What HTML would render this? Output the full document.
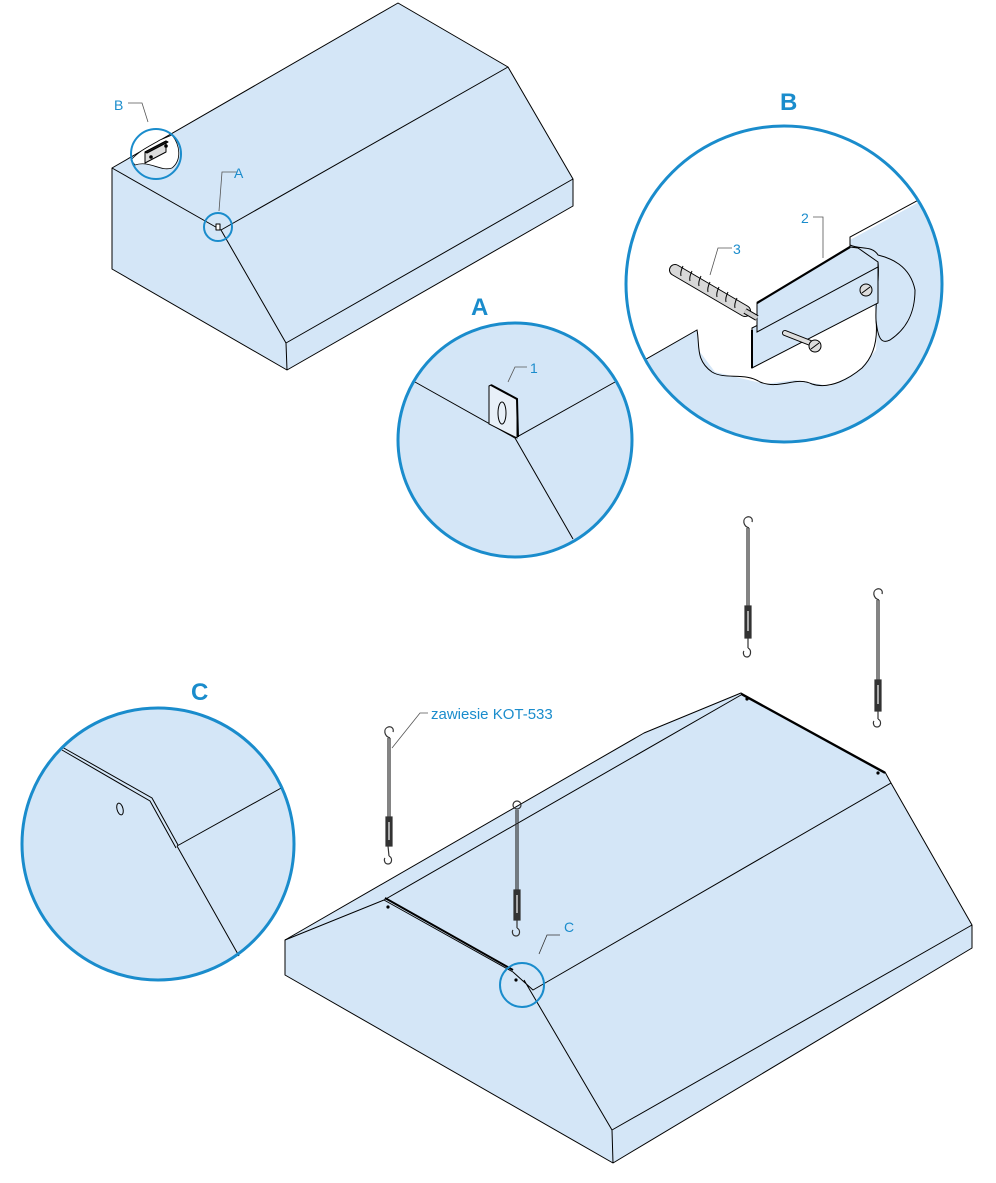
<!DOCTYPE html>
<html><head><meta charset="utf-8"><style>
html,body{margin:0;padding:0;background:#fff;}
svg{display:block;}
text{font-family:"Liberation Sans",Arial,sans-serif;fill:#1a8ccc;}
</style></head><body>
<svg width="996" height="1183" viewBox="0 0 996 1183" xmlns="http://www.w3.org/2000/svg">
<defs>
<clipPath id="cb"><circle cx="784" cy="284" r="158"/></clipPath>
</defs>
<g stroke="#000" stroke-width="1" fill="none" stroke-linejoin="round">
<!-- TOP HOOD -->
<polygon points="398,3 508,67 573,179 573,206 287,370 112,269 112,168" fill="#d4e6f7"/>
<path d="M112,168 L221,230 L508,67 M221,230 L286,343 L573,179 M286,343 L287,370"/>
<path d="M131,160 C140,150 150,146 160,140 L172,135 C180,145 182,160 172,168 C160,172 150,160 135,165 Z" fill="#fff" stroke-width="0.8"/>
<polygon points="145,152 166,141 166,152 145,163" fill="#ddd"/>
<polygon points="145,152 166,141 168,142 147,153" fill="#222"/>
<circle cx="151" cy="157" r="1.3" fill="#000"/><circle cx="166" cy="146" r="1.3" fill="#000"/>
<rect x="216" y="224" width="4" height="6" fill="#fff"/>
</g>
<g fill="none" stroke="#1a8ccc" stroke-width="2">
<circle cx="156" cy="154" r="25"/>
<circle cx="218" cy="227" r="14"/>
</g>
<g stroke="#555" stroke-width="0.8" fill="none">
<path d="M128,103 L142,103 L148,122"/>
<path d="M237,172 L222,172 L219,211"/>
</g>
<text x="114" y="110" font-size="14">B</text>
<text x="234" y="178" font-size="14">A</text>

<!-- DETAIL A -->
<circle cx="515" cy="440" r="117" fill="#d4e6f7"/>
<g stroke="#000" stroke-width="1" fill="none">
<path d="M415,382 L515,438 L615,382 M515,438 L573,539"/>
<path d="M489,386 L491,385 L515,398 L517,400 L517,438 L489,424 Z" fill="#e8f0f8"/>
<path d="M491,385 L517,399 L518,437" stroke-width="2"/>
<ellipse cx="502" cy="413" rx="4" ry="11"/>
</g>
<path d="M508,382 L515,367 L527,367" stroke="#555" stroke-width="0.8" fill="none"/>
<text x="530" y="373" font-size="14">1</text>
<circle cx="515" cy="440" r="117" fill="none" stroke="#1a8ccc" stroke-width="3"/>
<text x="471" y="315" font-size="24" font-weight="bold">A</text>

<!-- DETAIL B -->
<g clip-path="url(#cb)">
<circle cx="784" cy="284" r="158" fill="#fff"/>
<polygon points="600,385 697,330 700,352 715,372 740,378 765,384 795,380 830,386 858,372 876,350 878,320 870,290 850,262 850,240 950,185 950,460 600,460" fill="#d4e6f7" stroke="none"/>
<g stroke="#000" stroke-width="1" fill="none">
<path d="M620,374 L697,330 C700,345 695,360 712,372 C725,380 745,372 760,382 C780,390 795,376 812,384 C830,390 850,378 862,368 C874,356 878,340 876,320"/>
<path d="M850,247 L850,237 L950,183"/>
<path d="M850,245 C860,250 872,245 878,255 C890,258 910,265 915,290 C915,315 905,330 890,340 C882,344 878,340 876,320 C875,300 880,280 878,262" fill="#d4e6f7"/>
<polygon points="752,328 878,265 878,303 752,368" fill="#d4e6f7"/>
<polygon points="757,303 850,247 858,248 878,262 878,267 757,332" fill="#d4e6f7"/>
<path d="M757,303 L850,247" stroke-width="2.2"/>
<path d="M752,330 L752,368" stroke-width="2"/>
<path d="M785,333 L813,344" stroke="#000" stroke-width="6" stroke-linecap="round"/>
<path d="M785,333 L813,344" stroke="#ddd" stroke-width="4" stroke-linecap="round"/>
<circle cx="815" cy="346" r="6" fill="#ddd"/>
<path d="M811,349 L819,343"/>
<circle cx="866" cy="290" r="6" fill="#ddd"/>
<path d="M862,293 L870,287"/>
<path d="M675,270 L745,311" stroke="#000" stroke-width="12" stroke-linecap="round"/>
<path d="M675,270 L745,311" stroke="#d8d8d8" stroke-width="10" stroke-linecap="round"/>
<path d="M683,266 q-3,6 -2,10 M692,271 q-3,6 -2,10 M701,276 q-3,6 -2,10 M710,282 q-3,6 -2,10 M719,287 q-3,6 -2,10 M728,292 q-3,6 -2,10 M737,298 q-3,6 -2,10"/>
<path d="M745,311 L757,318" stroke="#000" stroke-width="6"/>
<path d="M745,311 L757,318" stroke="#ccc" stroke-width="4"/>
</g>
</g>
<g stroke="#555" stroke-width="0.8" fill="none">
<path d="M813,217 L823,217 L823,258"/>
<path d="M732,248 L718,248 L710,275"/>
</g>
<text x="801" y="223" font-size="14">2</text>
<text x="733" y="254" font-size="14">3</text>
<circle cx="784" cy="284" r="158" fill="none" stroke="#1a8ccc" stroke-width="3"/>
<text x="780" y="110" font-size="24" font-weight="bold">B</text>

<!-- DETAIL C -->
<circle cx="158" cy="844" r="136" fill="#d4e6f7"/>
<g stroke="#000" stroke-width="1" fill="none">
<path d="M62,747 L152,798 L178,845"/>
<path d="M62,750 L150,801 L176,848"/>
<path d="M177,846 L239,956 M177,846 L283,787"/>
<ellipse cx="120" cy="809" rx="3" ry="6" transform="rotate(-15 120 809)"/>
</g>
<circle cx="158" cy="844" r="136" fill="none" stroke="#1a8ccc" stroke-width="3"/>
<text x="191" y="700" font-size="24" font-weight="bold">C</text>

<!-- BOTTOM HOOD -->
<g stroke="#000" stroke-width="1" fill="none" stroke-linejoin="round">
<polygon points="285,940 644,733 741,693 885,772 891,783 972,925 972,948 613,1163 285,975" fill="#d4e6f7"/>
<path d="M285,940 L384,900 L741,695 M384,900 L513,972 L533,990 L891,783 M524,980 L612,1130 L972,925 M612,1130 L613,1163"/>
<path d="M385,898 L513,970" stroke-width="2"/>
<path d="M741,694 L885,773" stroke-width="2"/>
</g>
<g fill="#000">
<circle cx="388" cy="907" r="1.6"/><circle cx="516" cy="980" r="1.6"/>
<circle cx="747" cy="699" r="1.6"/><circle cx="878" cy="773" r="1.6"/>
</g>
<circle cx="522" cy="985" r="22" fill="none" stroke="#1a8ccc" stroke-width="2"/>
<path d="M539,954 L547,935 L560,935" stroke="#333" stroke-width="0.8" fill="none"/>
<text x="564" y="932" font-size="14">C</text>

<!-- HANGERS -->
<g stroke="#333" fill="none" stroke-width="1.2">
<g id="h1">
<path d="M388,738 L388,818 M390,738 L390,818 M388,846 L389,856"/>
<path d="M390,738 C384,736 383,729 388,727 C392,726 394,729 393,732"/>
<rect x="386" y="817" width="6" height="29" fill="#333"/>
<rect x="388" y="822" width="2" height="18" fill="#aaa" stroke="none"/>
<path d="M389,856 C393,858 392,864 388,864 C384,864 384,859 385,858"/>
</g>
<g>
<path d="M516,810 L516,890 M518,810 L518,890 M517,920 L517,928"/>
<circle cx="517" cy="805" r="4"/>
<rect x="514" y="890" width="6" height="30" fill="#333"/>
<rect x="516" y="895" width="2" height="18" fill="#aaa" stroke="none"/>
<path d="M517,928 C521,930 520,936 516,936 C512,936 512,931 513,930"/>
</g>
<g>
<path d="M747,528 L747,606 M749,528 L749,606 M748,638 L748,648"/>
<path d="M749,528 C743,526 742,519 747,517 C751,516 753,519 752,522"/>
<rect x="745" y="606" width="6" height="32" fill="#333"/>
<rect x="747" y="611" width="2" height="20" fill="#aaa" stroke="none"/>
<path d="M748,648 C752,650 751,657 747,657 C743,657 743,652 744,651"/>
</g>
<g>
<path d="M877,600 L877,680 M879,600 L879,680 M878,711 L878,719"/>
<path d="M879,600 C873,598 872,591 877,589 C881,588 883,591 882,594"/>
<rect x="875" y="680" width="6" height="31" fill="#333"/>
<rect x="877" y="685" width="2" height="19" fill="#aaa" stroke="none"/>
<path d="M878,719 C882,721 881,727 877,727 C873,727 873,722 874,721"/>
</g>
</g>
<path d="M428,713 L420,713 L392,748" stroke="#555" stroke-width="0.8" fill="none"/>
<text x="431" y="719" font-size="15">zawiesie KOT-533</text>
</svg>
</body></html>
